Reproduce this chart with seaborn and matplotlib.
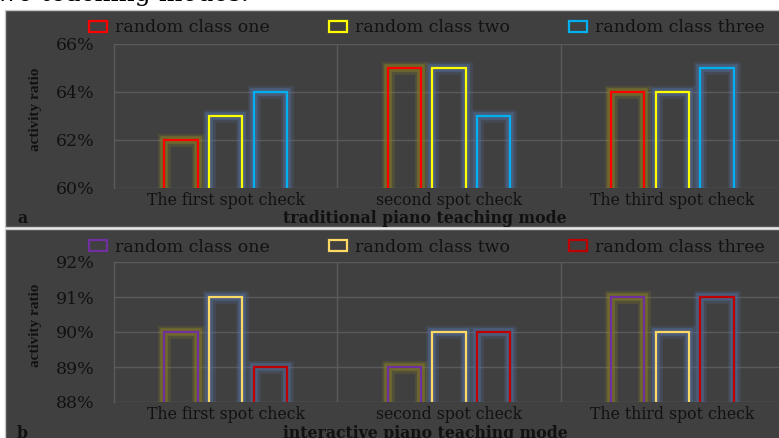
import matplotlib
matplotlib.use("Agg")
import matplotlib.pyplot as plt
import matplotlib.patheffects as pe
from matplotlib.patches import Rectangle, Patch
import pandas as pd
import seaborn as sns

# ---- data -------------------------------------------------------------
checks = ["The first spot check", "second spot check", "The third spot check"]
classes = ["random class one", "random class two", "random class three"]

traditional = {
    "random class one": [62, 65, 64],
    "random class two": [63, 65, 64],
    "random class three": [64, 63, 65],
}
interactive = {
    "random class one": [90, 89, 91],
    "random class two": [91, 90, 90],
    "random class three": [89, 90, 91],
}

trad_ticks = [60, 62, 64, 66]
inter_ticks = [88, 89, 90, 91, 92]

trad_colors = ["#ff0000", "#ffff00", "#00b0f0"]
inter_colors = ["#7030a0", "#ffd966", "#c00000"]
OLIVE_GLOW = "#968a20"
BLUE_GLOW = "#5474aa"
trad_glow = [OLIVE_GLOW, BLUE_GLOW, BLUE_GLOW]
inter_glow = [OLIVE_GLOW, BLUE_GLOW, BLUE_GLOW]

# ---- style ------------------------------------------------------------
sns.set_theme(style="dark")
plt.rcParams["font.family"] = ["DejaVu Serif"]

W, H = 779, 438
BG = "#404040"
GRID = "#5a5a5a"
TXT = "#111111"
FS = 12.5
FS_CAT = 11.3


def fx(px):
    return px / W


def fy(py):
    return 1 - py / H


fig = plt.figure(figsize=(W / 100, H / 100), dpi=100, facecolor="white")

# panel backgrounds
for top, bot in [(10, 227), (229.5, 445)]:
    fig.patches.append(Rectangle((fx(5), fy(bot)), fx(790) - fx(5), fy(top) - fy(bot),
                                 transform=fig.transFigure, facecolor=BG,
                                 edgecolor="#c8c8c8", linewidth=1.0, zorder=-5))

# caption line above the figure (only its lower part is visible)
fig.text(fx(-14), fy(1.5), "two teaching modes.", fontsize=18, color="black",
         ha="left", va="baseline", family="DejaVu Serif")


def long_frame(values):
    rows = []
    for cls in classes:
        for chk, v in zip(checks, values[cls]):
            rows.append({"check": chk, "cls": cls, "ratio": v})
    return pd.DataFrame(rows)


def draw_panel(top_px, bot_px, values, ticks, colors, glows, legend_y,
               xlabel, label_y, letter):
    ax = fig.add_axes([fx(114), fy(bot_px), fx(784) - fx(114), fy(top_px) - fy(bot_px)])
    ax.set_facecolor(BG)
    ax.set_zorder(1)
    df = long_frame(values)
    sns.barplot(data=df, x="check", y="ratio", hue="cls", order=checks,
                hue_order=classes, palette=colors, fill=False, width=0.6,
                gap=0.25, linewidth=1.6, errorbar=None, legend=False, ax=ax)
    # outline glow on each bar
    for i, cls in enumerate(classes):
        for bar in ax.containers[i]:
            bar.set_path_effects([
                pe.Stroke(linewidth=9, foreground=glows[i], alpha=0.22),
                pe.Stroke(linewidth=5.5, foreground=glows[i], alpha=0.42),
                pe.Normal(),
            ])
    ax.set_ylim(ticks[0], ticks[-1])
    ax.set_xlim(-0.5, 2.5)
    ax.set_yticks(ticks)
    ax.set_yticklabels([f"{t}%" for t in ticks], fontsize=FS, color=TXT)
    ax.set_xticks(range(3))
    ax.set_xticklabels(checks, fontsize=FS_CAT, color=TXT)
    ax.tick_params(axis="y", length=0, pad=14)
    ax.tick_params(axis="x", length=0, pad=3)
    ax.set_xlabel("")
    ax.set_ylabel("")
    ax.grid(False)
    for t in ticks:
        ax.axhline(t, color=GRID, linewidth=1.0, zorder=0.5)
    for xb in (0.5, 1.5):
        ax.axvline(xb, color=GRID, linewidth=1.0, zorder=0.5)
    for side in ("top", "right", "bottom"):
        ax.spines[side].set_visible(False)
    ax.spines["left"].set_color(GRID)
    ax.spines["left"].set_linewidth(1.0)

    handles = [Patch(facecolor="none", edgecolor=c, linewidth=1.6) for c in colors]
    fig.legend(handles, classes, loc="center", bbox_to_anchor=(fx(427), fy(legend_y)),
               ncol=3, frameon=False, fontsize=FS, labelcolor=TXT,
               handlelength=1.05, handleheight=0.55, handletextpad=0.45,
               columnspacing=3.4)

    fig.text(fx(35), (fy(top_px) + fy(bot_px)) / 2 + 0.015, "activity ratio",
             rotation=90, ha="center", va="center", fontsize=11,
             fontweight="bold", family="Liberation Serif", color=TXT)
    fig.text(fx(425), fy(label_y), xlabel, ha="center", va="center",
             fontsize=FS_CAT, fontweight="bold", color=TXT)
    fig.text(fx(22), fy(label_y), letter, ha="center", va="center",
             fontsize=FS_CAT, fontweight="bold", color=TXT)
    return ax


draw_panel(44, 188, traditional, trad_ticks, trad_colors, trad_glow, 28,
           "traditional piano teaching mode", 218.5, "a")
draw_panel(262, 402, interactive, inter_ticks, inter_colors, inter_glow, 247,
           "interactive piano teaching mode", 434, "b")

fig.savefig("out.png", dpi=100, facecolor="white")
